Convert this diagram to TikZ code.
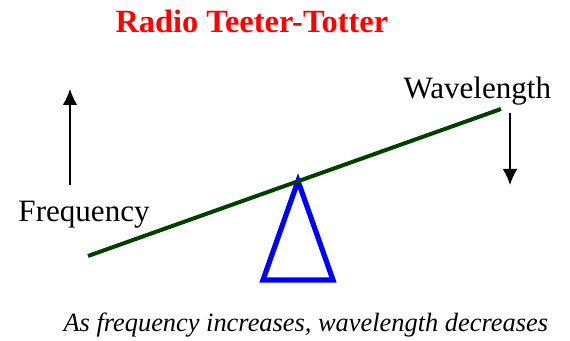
\documentclass[tikz,border=0pt]{standalone}
\usepackage{fontspec}
\setmainfont{Liberation Serif}
\usetikzlibrary{arrows.meta}

\definecolor{beamgreen}{RGB}{0,64,0}
\tikzset{every picture/.style={line width=0.75pt}}
\tikzset{
  label text/.style={anchor=base west,inner sep=0pt,font=\fontsize{23.3}{27}\selectfont},
  trend arrow/.style={line width=1.1pt,-{Latex[length=12pt,width=11pt]}}
}

\begin{document}
\begin{tikzpicture}[x=0.75pt,y=0.75pt,yscale=-1,xscale=1]
%set diagram size
\useasboundingbox (0,0) rectangle (570,341);

% Points
\coordinate (freqlow) at (70,185);
\coordinate (freqhigh) at (70,89);
\coordinate (wavehigh) at (510,113);
\coordinate (wavelow) at (510,185);
\coordinate (beamleft) at (88,256);
\coordinate (beamright) at (501,109);
\coordinate (apex) at (298,181);
\coordinate (baseleft) at (263,280);
\coordinate (baseright) at (333,280);

%Triangle
\draw [color=blue,line width=3.9pt] (apex) -- (baseleft) -- (baseright) -- cycle;
%Straight Lines
\draw [color=beamgreen,line width=3pt] (beamleft) -- (beamright);
%Straight Lines
\draw [trend arrow] (freqlow) -- (freqhigh);
%Straight Lines
\draw [trend arrow] (wavehigh) -- (wavelow);

% Text Node
\node (title) at (115,33) [anchor=base west,inner sep=0pt,text=red,font=\fontsize{24.3}{29}\selectfont\bfseries] {Radio Teeter-Totter};
% Text Node
\node (freq) at (18,222) [label text] {Frequency};
% Text Node
\node (wave) at (403,99) [label text] {Wavelength};
% Text Node
\node (caption) at (63,332) [anchor=base west,inner sep=0pt,font=\fontsize{19.8}{24}\selectfont\itshape] {As frequency increases, wavelength decreases};

\end{tikzpicture}
\end{document}
